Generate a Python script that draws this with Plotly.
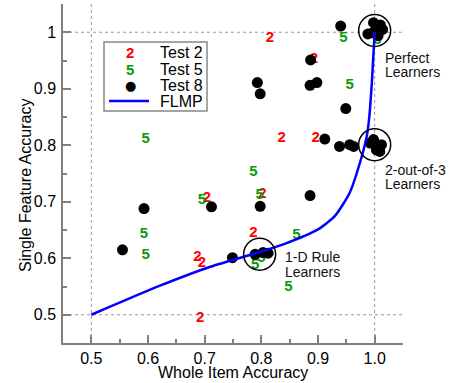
import plotly.graph_objects as go

# ---- data ----
test2_x = [0.815, 0.893, 0.836, 0.896, 0.802, 0.704, 0.786, 0.687, 0.695, 0.692, 1.010]
test2_y = [0.990, 0.953, 0.813, 0.813, 0.713, 0.707, 0.644, 0.601, 0.592, 0.494, 1.010]

test5_x = [0.945, 0.956, 0.596, 0.786, 0.695, 0.797, 0.593, 0.596, 0.862, 0.848, 0.789, 0.800, 1.005]
test5_y = [0.990, 0.907, 0.810, 0.752, 0.702, 0.711, 0.642, 0.605, 0.641, 0.548, 0.588, 0.600, 0.986]

test8_x = [0.940, 0.887, 0.793, 0.798, 0.886, 0.898, 0.949, 0.912, 0.938, 0.956, 0.963,
           0.886, 0.712, 0.593, 0.798, 0.555, 0.749, 0.789, 0.803, 0.812,
           0.998, 1.010, 1.014, 0.988, 0.996, 1.006, 1.003,
           0.998, 1.012, 1.003, 1.009, 0.992]
test8_y = [1.011, 0.951, 0.911, 0.891, 0.906, 0.911, 0.865, 0.811, 0.798, 0.801, 0.798,
           0.711, 0.691, 0.688, 0.692, 0.615, 0.601, 0.607, 0.610, 0.609,
           1.017, 1.013, 1.005, 0.997, 0.999, 0.994, 1.005,
           0.810, 0.801, 0.792, 0.789, 0.804]

flmp_x = [0.50, 0.62, 0.71, 0.80, 0.84, 0.90, 0.93, 0.956, 0.974, 0.986, 0.990, 0.995, 1.000]
flmp_y = [0.50, 0.551, 0.585, 0.612, 0.625, 0.651, 0.675, 0.716, 0.769, 0.816, 0.845, 0.910, 1.000]

x_ticks = [0.5, 0.6, 0.7, 0.8, 0.9, 1.0]
x_ticktext = ["0.5", "0.6", "0.7", "0.8", "0.9", "1.0"]
y_ticks = [0.5, 0.6, 0.7, 0.8, 0.9, 1.0]
y_ticktext = ["0.5", "0.6", "0.7", "0.8", "0.9", "1"]

clusters_x = [1.0, 1.0, 0.797]
clusters_y = [1.003, 0.801, 0.607]
cluster_labels = [("Perfect", "Learners"), ("2-out-of-3", "Learners"), ("1-D Rule", "Learners")]

RED = "#ff0000"
GREEN = "#0a990a"
FONT = "Liberation Sans, Arial, sans-serif"

fig = go.Figure()
fig.add_trace(go.Scatter(x=test2_x, y=test2_y, mode="text", text=["2"] * len(test2_x),
                         textfont=dict(color=RED, size=15, family=FONT, weight="bold"),
                         showlegend=False))
fig.add_trace(go.Scatter(x=test5_x, y=test5_y, mode="text", text=["5"] * len(test5_x),
                         textfont=dict(color=GREEN, size=15, family=FONT, weight="bold"),
                         showlegend=False))
fig.add_trace(go.Scatter(x=test8_x, y=test8_y, mode="markers",
                         marker=dict(color="black", size=11), showlegend=False))
fig.add_trace(go.Scatter(x=flmp_x, y=flmp_y, mode="lines",
                         line=dict(color="#0000ff", width=2.5, shape="spline", smoothing=0.6),
                         showlegend=False))

# cluster circles (radius ~16 px)
r = 16 / 566.7
for cx, cy in zip(clusters_x, clusters_y):
    fig.add_shape(type="circle", xref="x", yref="y", x0=cx - r, x1=cx + r, y0=cy - r, y1=cy + r,
                  line=dict(color="black", width=1.5), layer="above")


def px2x(px):
    return (px - 63) / 340


def px2y(py):
    return (343 - py) / 339


# cluster labels
label_pos = [(383, 58, 72), (383, 170, 184), (283, 257, 272)]
for (l1, l2), (lx, y1, y2) in zip(cluster_labels, label_pos):
    for t, yy in ((l1, y1), (l2, y2)):
        fig.add_annotation(x=px2x(lx), y=px2y(yy), xref="paper", yref="paper", text=t,
                           showarrow=False, xanchor="left", yanchor="middle",
                           font=dict(size=14, family=FONT, color="#111111"))

# reference dotted lines
for v in (0.5, 1.0):
    fig.add_shape(type="line", xref="x", yref="paper", x0=v, x1=v, y0=0, y1=1,
                  line=dict(color="#999999", width=1, dash="dot"), layer="below")
    fig.add_shape(type="line", xref="paper", yref="y", x0=0, x1=1, y0=v, y1=v,
                  line=dict(color="#999999", width=1, dash="dot"), layer="below")

# manual legend
fig.add_shape(type="rect", xref="paper", yref="paper", x0=px2x(104), x1=px2x(207),
              y0=px2y(111), y1=px2y(42), line=dict(color="#888888", width=1.5),
              fillcolor="white", layer="above")
rows = [52, 69, 86, 101]
names = ["Test 2", "Test 5", "Test 8", "FLMP"]
fig.add_annotation(x=px2x(130), y=px2y(rows[0]), xref="paper", yref="paper", text="<b>2</b>",
                   showarrow=False, xanchor="center", yanchor="middle",
                   font=dict(size=15, family=FONT, color=RED))
fig.add_annotation(x=px2x(130), y=px2y(rows[1]), xref="paper", yref="paper", text="<b>5</b>",
                   showarrow=False, xanchor="center", yanchor="middle",
                   font=dict(size=15, family=FONT, color=GREEN))
fig.add_annotation(x=px2x(130), y=px2y(rows[2]), xref="paper", yref="paper", text="●",
                   showarrow=False, xanchor="center", yanchor="middle",
                   font=dict(size=13, family="DejaVu Sans", color="black"))
fig.add_shape(type="line", xref="paper", yref="paper", x0=px2x(109), x1=px2x(149),
              y0=px2y(rows[3]), y1=px2y(rows[3]), line=dict(color="#0000ff", width=2.5), layer="above")
for n, ry in zip(names, rows):
    fig.add_annotation(x=px2x(158), y=px2y(ry), xref="paper", yref="paper", text=n,
                       showarrow=False, xanchor="left", yanchor="middle",
                       font=dict(size=16, family=FONT, color="black"))

# axis titles
fig.add_annotation(x=0.5, y=px2y(372), xref="paper", yref="paper", text="Whole Item Accuracy",
                   showarrow=False, xanchor="center", yanchor="middle",
                   font=dict(size=16, family=FONT, color="black"))
fig.add_annotation(x=px2x(25), y=px2y(186), xref="paper", yref="paper", text="Single Feature Accuracy",
                   showarrow=False, textangle=-90, xanchor="center", yanchor="middle",
                   font=dict(size=16, family=FONT, color="black"))

axis_common = dict(showline=True, linecolor="#808080", linewidth=1.5, ticks="inside", ticklen=8,
                   tickwidth=1.5, tickcolor="#808080", showgrid=False, zeroline=False,
                   tickfont=dict(size=16, family=FONT, color="black"),
                   minor=dict(ticks="inside", ticklen=4, tickwidth=1.5, tickcolor="#808080",
                              dtick=0.05, tick0=0.45, showgrid=False))
fig.update_xaxes(range=[0.45, 1.05], tickmode="array", tickvals=x_ticks, ticktext=x_ticktext,
                 ticklabelstandoff=0, **axis_common)
fig.update_yaxes(range=[0.45, 1.05], tickmode="array", tickvals=y_ticks, ticktext=y_ticktext,
                 ticklabelstandoff=2, **axis_common)

fig.update_layout(width=450, height=383, margin=dict(l=63, r=47, t=4, b=40),
                  paper_bgcolor="white", plot_bgcolor="white", showlegend=False)

fig.write_html("out.html", config={"responsive": False, "displayModeBar": False},
               post_script="document.body.style.margin='0';")
